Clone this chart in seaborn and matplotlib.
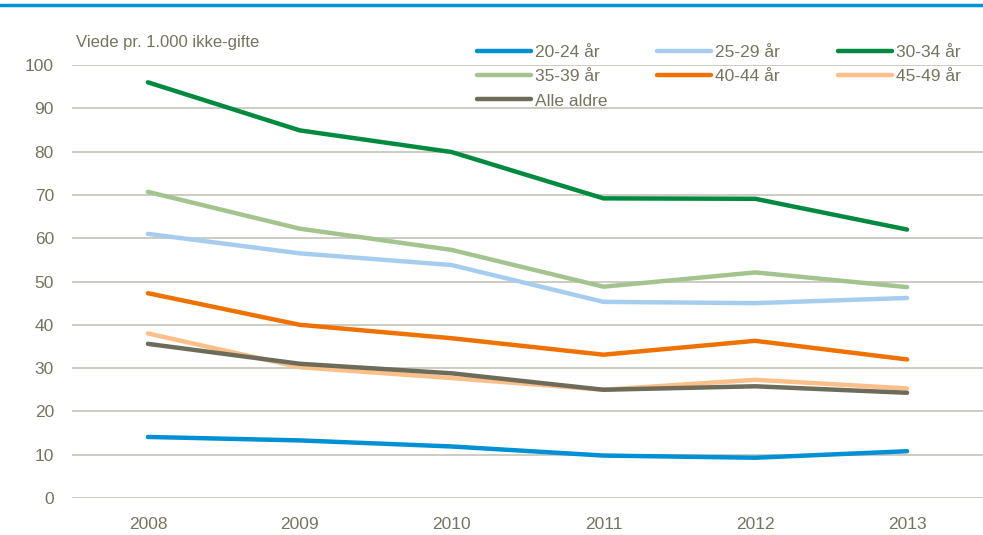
import pandas as pd
import matplotlib.pyplot as plt
import seaborn as sns
from matplotlib.lines import Line2D

years = [2008, 2009, 2010, 2011, 2012, 2013]
groups = ["20-24 år", "25-29 år", "30-34 år", "35-39 år", "40-44 år", "45-49 år", "Alle aldre"]

r20_24 = [14.1, 13.3, 11.9, 9.8, 9.3, 10.8]
r25_29 = [61.0, 56.5, 53.8, 45.3, 45.0, 46.2]
r30_34 = [96.0, 84.9, 79.9, 69.2, 69.1, 62.0]
r35_39 = [70.7, 62.2, 57.3, 48.8, 52.1, 48.7]
r40_44 = [47.3, 40.0, 36.9, 33.1, 36.3, 32.0]
r45_49 = [38.0, 30.2, 27.7, 25.0, 27.3, 25.3]
r_alle = [35.6, 31.0, 28.8, 25.0, 25.8, 24.3]

colors = ["#0090d4", "#a6cdef", "#008a3e", "#a3c48f", "#ef7100", "#fbbf8a", "#6d6b5a"]
text_col = "#77735f"
grid_col = "#c9c8bd"

series = [r20_24, r25_29, r30_34, r35_39, r40_44, r45_49, r_alle]
df = pd.DataFrame({
    "År": years * len(groups),
    "Rate": [v for s in series for v in s],
    "Gruppe": [g for g in groups for _ in years],
})

sns.set_style("white")
plt.rcParams["font.family"] = ["Liberation Sans Narrow", "Liberation Sans", "DejaVu Sans"]

fig = plt.figure(figsize=(9.83, 5.35), dpi=100)
ax = fig.add_axes([72 / 983, 1 - 498 / 535, 1 - 72 / 983, (498 - 65) / 535])

sns.lineplot(data=df, x="År", y="Rate", hue="Gruppe", hue_order=groups,
             palette=dict(zip(groups, colors)), linewidth=3.2, ax=ax,
             legend=False, solid_capstyle="round")

ax.set_xlim(2007.5, 2013.5)
ax.set_ylim(0, 100)
ax.set_xticks(years)
ax.set_xticklabels([str(y) for y in years])
ax.set_yticks(range(0, 101, 10))
ax.yaxis.grid(True, color=grid_col, linewidth=1.3)
ax.set_axisbelow(True)
for s in ax.spines.values():
    s.set_visible(False)
ax.tick_params(axis="both", length=0, labelsize=12.5, colors=text_col)
ax.tick_params(axis="y", pad=13)
ax.tick_params(axis="x", pad=14)
ax.set_xlabel("")
ax.set_ylabel("")

fig.text(76 / 983, 1 - 43 / 535, "Viede pr. 1.000 ikke-gifte", fontsize=12,
         color=text_col, va="center", ha="left")

# legend laid out row-wise in three columns, one legend per column
handles = [Line2D([0], [0], color=c, linewidth=3.2) for c in colors]
columns = [[0, 3, 6], [1, 4], [2, 5]]
col_x = [477, 657, 838]
for idx, x0 in zip(columns, col_x):
    leg = fig.legend([handles[i] for i in idx], [groups[i] for i in idx],
                     loc="upper left", bbox_to_anchor=(x0 / 983, 1 - 45 / 535),
                     frameon=False, fontsize=12.5, handlelength=3.1,
                     handletextpad=0.25, labelspacing=0.52, borderpad=0,
                     borderaxespad=0)
    for t in leg.get_texts():
        t.set_color(text_col)

fig.add_artist(Line2D([0, 1], [1 - 5 / 535, 1 - 5 / 535], color="#0090d4",
                      linewidth=2.5, transform=fig.transFigure))

fig.savefig("out.png", dpi=100)
